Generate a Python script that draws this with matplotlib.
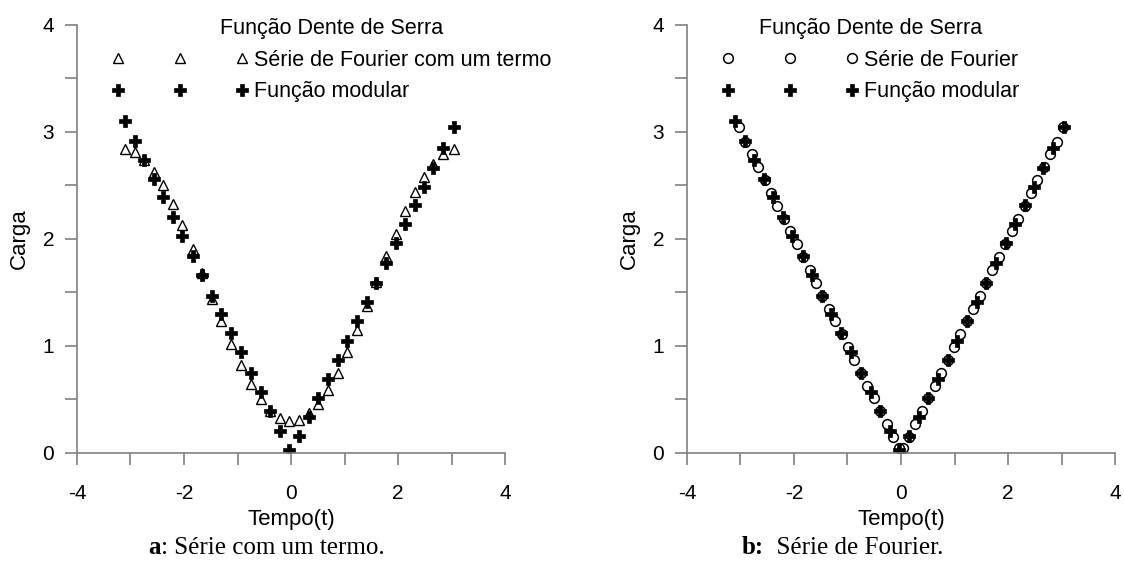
import numpy as np
import matplotlib
matplotlib.use("Agg")
import matplotlib.pyplot as plt

plt.rcParams['font.family'] = ['Liberation Sans', 'DejaVu Sans']

# pontos da função modular |t|
t_mod = [-3.10, -2.92, -2.74, -2.56, -2.39, -2.21, -2.03, -1.84, -1.66, -1.47,
         -1.30, -1.12, -0.94, -0.75, -0.57, -0.39, -0.21, -0.03, 0.155, 0.34,
         0.51, 0.69, 0.87, 1.05, 1.23, 1.415, 1.59, 1.78, 1.96, 2.14,
         2.32, 2.49, 2.66, 2.85, 3.05]
y_mod = [3.10, 2.92, 2.74, 2.56, 2.39, 2.21, 2.03, 1.84, 1.66, 1.47,
         1.30, 1.12, 0.94, 0.75, 0.57, 0.39, 0.21, 0.03, 0.155, 0.34,
         0.51, 0.69, 0.87, 1.05, 1.23, 1.415, 1.59, 1.78, 1.96, 2.14,
         2.32, 2.49, 2.66, 2.85, 3.05]

# série com um termo, nos mesmos instantes
y_um_termo = [2.84, 2.81, 2.74, 2.63, 2.50, 2.33, 2.13, 1.91, 1.68, 1.44,
              1.23, 1.02, 0.82, 0.64, 0.50, 0.39, 0.33, 0.30, 0.31, 0.37,
              0.46, 0.59, 0.75, 0.94, 1.15, 1.37, 1.60, 1.84, 2.05, 2.26,
              2.44, 2.58, 2.70, 2.79, 2.84]

# série de Fourier completa
t_fourier = [-3.03, -2.91, -2.79, -2.67, -2.55, -2.43, -2.31, -2.19, -2.07, -1.95,
             -1.83, -1.71, -1.59, -1.47, -1.35, -1.23, -1.11, -0.99, -0.87, -0.75,
             -0.63, -0.51, -0.39, -0.27, -0.15, -0.03,
             0.03, 0.15, 0.27, 0.39, 0.51, 0.63, 0.75, 0.87, 0.99, 1.11,
             1.23, 1.35, 1.47, 1.59, 1.71, 1.83, 1.95, 2.07, 2.19, 2.31,
             2.43, 2.55, 2.67, 2.79, 2.91, 3.03]
y_fourier = [3.05, 2.91, 2.79, 2.67, 2.55, 2.43, 2.31, 2.19, 2.07, 1.95,
             1.83, 1.71, 1.59, 1.47, 1.35, 1.23, 1.11, 0.99, 0.87, 0.75,
             0.63, 0.51, 0.39, 0.27, 0.15, 0.05,
             0.05, 0.15, 0.27, 0.39, 0.51, 0.63, 0.75, 0.87, 0.99, 1.11,
             1.23, 1.35, 1.47, 1.59, 1.71, 1.83, 1.95, 2.07, 2.19, 2.31,
             2.43, 2.55, 2.67, 2.79, 2.91, 3.05]

x_ticks = [-4, -3, -2, -1, 0, 1, 2, 3, 4]
x_labels = ['-4', '', '-2', '', '0', '', '2', '', '4']
y_ticks = [0, 0.5, 1, 1.5, 2, 2.5, 3, 3.5, 4]
y_labels = ['0', '', '1', '', '2', '', '3', '', '4']

fig = plt.figure(figsize=(11.24, 5.78), dpi=100)
ax1 = fig.add_axes([0.0685, 0.2163, 0.3808, 0.7405])
ax2 = fig.add_axes([0.6112, 0.2163, 0.3808, 0.7405])

for ax in (ax1, ax2):
    ax.set_xlim(-4, 4)
    ax.set_ylim(0, 4)
    ax.set_xticks(x_ticks)
    ax.set_xticklabels(x_labels)
    ax.set_yticks(y_ticks)
    ax.set_yticklabels(y_labels)
    for s in ('top', 'right'):
        ax.spines[s].set_visible(False)
    for s in ('left', 'bottom'):
        ax.spines[s].set_color('#808080')
        ax.spines[s].set_linewidth(1.2)
    ax.tick_params(direction='out', length=8.5, width=1.2, color='#808080',
                   labelsize=15)
    ax.tick_params(axis='y', pad=8)
    ax.tick_params(axis='x', pad=14)
    ax.set_xlabel('Tempo(t)', fontsize=16, labelpad=4)
    ax.set_ylabel('Carga', fontsize=16, labelpad=9)
    ax.patch.set_alpha(0)

leg_kw = dict(loc='upper left', bbox_transform=fig.transFigure, frameon=False,
              numpoints=3, handlelength=6.36, handletextpad=0.26, borderpad=0,
              labelspacing=0.5, fontsize=15.5, title_fontsize=15.5)

# painel a
ax1.plot(t_mod, y_um_termo, ls='none', marker='^', ms=7, mfc='white',
         mec='black', mew=1.0, label='Série de Fourier com um termo')
ax1.plot(t_mod, y_mod, ls='none', marker='P', ms=8, mfc='black',
         mec='black', mew=0.5, label='Função modular')
ax1.legend(title='Função Dente de Serra',
           bbox_to_anchor=(101 / 1124, 1 - 7 / 578), **leg_kw)

# painel b
ax2.plot(t_fourier, y_fourier, ls='none', marker='o', ms=7, mfc='none',
         mec='black', mew=1.1, label='Série de Fourier')
ax2.plot(t_mod, y_mod, ls='none', marker='P', ms=8, mfc='black',
         mec='black', mew=0.5, label='Função modular')
ax2.legend(title='Função Dente de Serra',
           bbox_to_anchor=(711 / 1124, 1 - 7 / 578), **leg_kw)

# legendas das figuras
serif = ['Liberation Serif', 'DejaVu Serif']
fig.text(161 / 1124, 1 - 548 / 578, 'a', ha='right', va='center',
         fontsize=18, fontweight='bold', family=serif)
fig.text(161 / 1124, 1 - 548 / 578, ': Série com um termo.', ha='left',
         va='center', fontsize=18, family=serif)
fig.text(764 / 1124, 1 - 548 / 578, 'b:', ha='right', va='center',
         fontsize=18, fontweight='bold', family=serif)
fig.text(764 / 1124, 1 - 548 / 578, '  Série de Fourier.', ha='left',
         va='center', fontsize=18, family=serif)

fig.savefig('out.png', dpi=100)
